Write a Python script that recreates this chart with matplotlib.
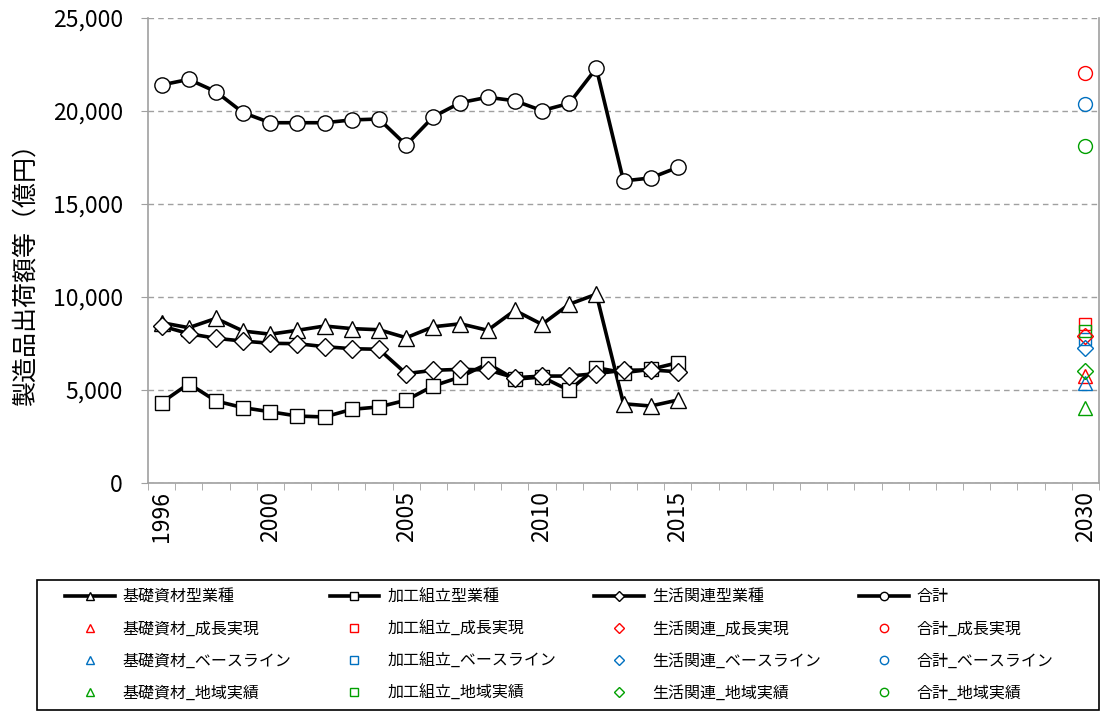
import numpy as np
import matplotlib
matplotlib.use("Agg")
import matplotlib.pyplot as plt
from matplotlib.lines import Line2D
from matplotlib.patches import Rectangle
from matplotlib.ticker import FuncFormatter, FixedLocator

plt.rcParams['font.family'] = ['Noto Sans CJK JP', 'DejaVu Sans']

# Actual values 1996-2015 (億円)
years = list(range(1996, 2016))
kiso = [8620, 8350, 8850, 8170, 8000, 8210, 8440, 8300, 8240, 7810,
        8400, 8560, 8210, 9280, 8530, 9610, 10150, 4260, 4140, 4460]
kako = [4320, 5340, 4410, 4050, 3830, 3600, 3550, 3960, 4090, 4450,
        5220, 5700, 6420, 5580, 5700, 4980, 6200, 5930, 6110, 6470]
seikatsu = [8440, 8030, 7780, 7630, 7510, 7490, 7330, 7220, 7190, 5880,
            6060, 6110, 6080, 5660, 5750, 5750, 5880, 6060, 6080, 5980]
total = [21400, 21700, 21040, 19910, 19370, 19370, 19370, 19520, 19570, 18170,
         19690, 20450, 20740, 20550, 20020, 20410, 22300, 16240, 16400, 16970]

# 2030 scenarios: 成長実現, ベースライン, 地域実績
target_year = 2030
scenarios = ['成長実現', 'ベースライン', '地域実績']
kiso_2030 = [5750, 5390, 4050]
kako_2030 = [8530, 7720, 8150]
seikatsu_2030 = [7900, 7270, 6020]
total_2030 = [22050, 20370, 18140]

series_names = ['基礎資材型業種', '加工組立型業種', '生活関連型業種', '合計']
short_names = ['基礎資材', '加工組立', '生活関連', '合計']
markers = ['^', 's', 'D', 'o']
scen_colors = ['#FF0000', '#0070C0', '#00A000']

fig = plt.figure(figsize=(11, 7.11), dpi=100)
ax = fig.add_axes([148 / 1100, 1 - 483 / 711, (1099 - 148) / 1100, (483 - 18) / 711])

actual = [kiso, kako, seikatsu, total]
future = [kiso_2030, kako_2030, seikatsu_2030, total_2030]
msizes = [11, 10, 9, 11]
leg_sizes = [6, 6, 5, 6]

handles = []
labels = []
for name, short, mk, vals, fut, ms, lms in zip(series_names, short_names, markers,
                                                actual, future, msizes, leg_sizes):
    ax.plot(years, vals, color='black', lw=2.6, marker=mk, ms=ms,
            mfc='white', mec='black', mew=1.0, zorder=3)
    handles.append(Line2D([], [], color='black', lw=2.6, marker=mk, ms=lms,
                          mfc='white', mec='black', mew=1.0))
    labels.append(name)
    for scen, col, v in zip(scenarios, scen_colors, fut):
        ax.plot([target_year], [v], ls='none', marker=mk, ms=ms - 1,
                mfc='none', mec=col, mew=1.0, zorder=4)
        handles.append(Line2D([], [], ls='none', marker=mk, ms=lms,
                              mfc='none', mec=col, mew=1.0))
        labels.append(short + '_' + scen)

ax.set_xlim(1995.5, 2030.5)
ax.set_ylim(0, 25000)
ax.set_yticks(np.arange(0, 25001, 5000))
ax.yaxis.set_major_formatter(FuncFormatter(lambda v, p: f'{int(v):,}'))
ax.grid(axis='y', color='#A0A0A0', ls=(0, (4, 3)), lw=1.0)
ax.set_axisbelow(True)

ax.set_xticks([1996, 2000, 2005, 2010, 2015, 2030])
ax.set_xticklabels(['1996', '2000', '2005', '2010', '2015', '2030'], rotation=90)
ax.xaxis.set_minor_locator(FixedLocator(np.arange(1995.5, 2031, 1)))
ax.tick_params(axis='x', which='major', length=0, pad=6, labelsize=16.5)
ax.tick_params(axis='x', which='minor', length=5, color='#A0A0A0', direction='out')
ax.tick_params(axis='y', length=5, color='#A0A0A0', labelsize=16.5, pad=13)

for side in ['left', 'bottom', 'right']:
    ax.spines[side].set_color('#A0A0A0')
    ax.spines[side].set_linewidth(1.2)
ax.spines['top'].set_visible(False)

ax.set_ylabel('製造品出荷額等（億円）', fontsize=18, va='center')
ax.yaxis.set_label_coords((26 - 148) / 951, (483 - 269) / 465)

# legend frame drawn separately, entries placed inside it
fig.add_artist(Rectangle((37 / 1100, 1 / 711), 1062 / 1100, 130 / 711,
                         transform=fig.transFigure, fill=False,
                         ec='black', lw=1.2))
leg = fig.legend(handles, labels, ncol=4, loc='center left',
                 bbox_to_anchor=(65 / 1100, 1 - 645 / 711),
                 borderaxespad=0, borderpad=0, fontsize=11.5, frameon=False,
                 handlelength=3.1, handletextpad=0.5, labelspacing=0.95,
                 columnspacing=2.4)

fig.savefig('out.png', dpi=100)
